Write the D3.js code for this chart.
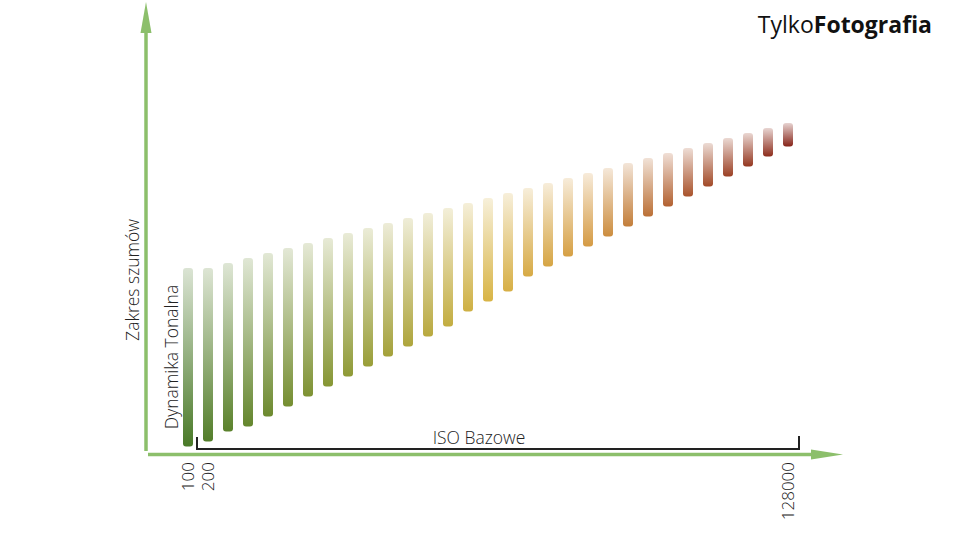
<!DOCTYPE html>
<html><head><meta charset="utf-8">
<script src="https://cdn.jsdelivr.net/npm/d3@7"></script>
<style>
html,body{margin:0;padding:0;background:#fff;}
svg{display:block;font-family:"Open Sans",sans-serif;}
</style></head>
<body>
<svg id="chart" width="960" height="540"></svg>
<script>
// ISO steps (categories)
const isoValues = ["100","200","250","320","400","500","640","800","1000","1250","1600","2000","2500","3200","4000","5000","6400","8000","10000","12800","16000","20000","25600","32000","40000","51200","64000","80000","102400","115200","128000"];
// tick labels shown
const tickLabels = ["100","200","128000"];
// top of each bar: noise level (arbitrary units)
const noiseTop = [37,37,38,39,40,41,42,43,44,45,46,47,48,49,50,51,52,53,54,55,56,57,58,59,60,61,62,63,64,65,66];
// bottom of each bar: lower end of the tonal range (arbitrary units)
const rangeBottom = [1.3,2.3,4.3,5.3,7.3,9.3,11.3,13.3,15.3,17.3,19.3,21.3,23.3,25.3,28.3,30.3,32.3,35.3,37.3,39.3,41.3,43.3,45.3,47.3,49.3,51.3,53.3,55.3,57.3,59.3,61.3];
// texts
const yTitle = "Zakres szumów";
const yTitle2 = "Dynamika Tonalna";
const bracketTitle = "ISO Bazowe";

const svg = d3.select("#chart");
const x = d3.scalePoint().domain(isoValues).range([188, 788]);
const y = d3.scaleLinear().domain([0, 90]).range([453, 3]);

const axisColor = "#8cbf6b";
const colorIdx = [0, 8, 15, 20, 25, 30];
const colorBottom = d3.scaleLinear().domain(colorIdx)
  .range(["#4a7a28","#8f9a36","#d8b445","#d59b44","#a9532c","#862418"])
  .interpolate(d3.interpolateRgb);

const defs = svg.append("defs");
isoValues.forEach((c, i) => {
  const bc = colorBottom(i);
  const tc = d3.interpolateRgb(bc, "#ffffff")(0.8);
  const g = defs.append("linearGradient").attr("id", "g" + i)
    .attr("x1", 0).attr("y1", 0).attr("x2", 0).attr("y2", 1);
  g.append("stop").attr("offset", "0%").attr("stop-color", tc);
  g.append("stop").attr("offset", "100%").attr("stop-color", bc);
});

// bars
svg.append("g").selectAll("rect").data(isoValues).join("rect")
  .attr("x", d => x(d) - 5)
  .attr("width", 10)
  .attr("y", (d, i) => y(noiseTop[i]))
  .attr("height", (d, i) => y(rangeBottom[i]) - y(noiseTop[i]))
  .attr("rx", 3)
  .attr("fill", (d, i) => `url(#g${i})`);

// axes lines with arrows
svg.append("line").attr("x1", 146).attr("y1", 451).attr("x2", 146).attr("y2", 28)
  .attr("stroke", axisColor).attr("stroke-width", 3.5);
svg.append("path").attr("d", "M140.5,33 L151.5,33 L146,2 Z").attr("fill", axisColor);
svg.append("line").attr("x1", 148).attr("y1", 454.5).attr("x2", 815).attr("y2", 454.5)
  .attr("stroke", axisColor).attr("stroke-width", 3.5);
svg.append("path").attr("d", "M811,449.5 L811,459.5 L843,454.5 Z").attr("fill", axisColor);

// x axis tick labels
const xAxis = d3.axisBottom(x).tickValues(tickLabels).tickSize(0).tickPadding(0);
const gx = svg.append("g").attr("transform", "translate(0,462)").call(xAxis);
gx.select(".domain").remove();
gx.selectAll("text")
  .attr("transform", "rotate(-90)")
  .attr("x", 0).attr("y", 0).attr("dy", "0.35em")
  .attr("text-anchor", "end")
  .attr("font-family", "'Open Sans',sans-serif")
  .attr("font-weight", 300)
  .attr("font-size", 17).attr("fill", "#222");

// bracket
const bx0 = x("200") - 11, bx1 = x("128000") + 11;
svg.append("path")
  .attr("d", `M${bx0},437 L${bx0},449 L${bx1},449 L${bx1},436`)
  .attr("fill", "none").attr("stroke", "#222").attr("stroke-width", 2);
svg.append("text").attr("x", 479).attr("y", 444)
  .attr("text-anchor", "middle").attr("font-size", 17.5).attr("font-weight", 300).attr("fill", "#222")
  .text(bracketTitle);

// y titles
svg.append("text").attr("transform", "translate(139,280) rotate(-90)")
  .attr("text-anchor", "middle").attr("font-size", 17.5).attr("font-weight", 300).attr("fill", "#222").text(yTitle);
svg.append("text").attr("transform", "translate(178,357) rotate(-90)")
  .attr("text-anchor", "middle").attr("font-size", 17.5).attr("font-weight", 300).attr("fill", "#222").text(yTitle2);

// logo
const logo = svg.append("text").attr("x", 932).attr("y", 33).attr("text-anchor", "end")
  .attr("font-size", 23).attr("fill", "#111");
logo.append("tspan").attr("font-weight", 400).text("Tylko");
logo.append("tspan").attr("font-weight", 700).text("Fotografia");
</script>
</body></html>
